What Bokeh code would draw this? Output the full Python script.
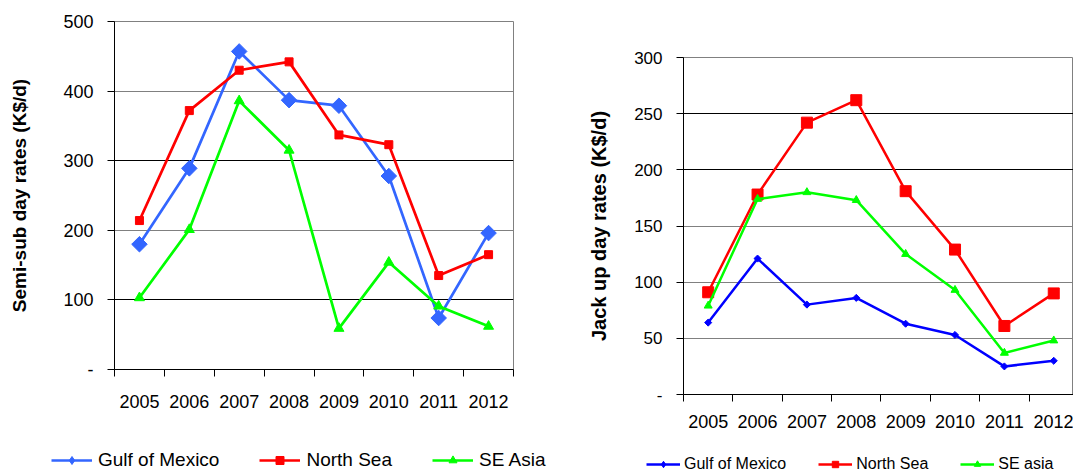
import math

from bokeh.embed import file_html
from bokeh.layouts import column, row
from bokeh.models import FixedTicker, Grid, Legend, LegendItem, Range1d
from bokeh.plotting import figure
from bokeh.resources import INLINE

# ---- data -------------------------------------------------------------
years = ["2005", "2006", "2007", "2008", "2009", "2010", "2011", "2012"]

# Semi-submersible day rates, K$/d
semi_gom = [180, 289, 457, 387, 379, 278, 74, 196]
semi_north_sea = [214, 372, 430, 442, 337, 323, 135, 165]
semi_se_asia = [103, 201, 386, 315, 59, 154, 91, 62]

# Jack-up day rates, K$/d
jack_gom = [64, 121, 80, 86, 63, 53, 25, 30]
jack_north_sea = [91, 178, 242, 262, 181, 129, 61, 90]
jack_se_asia = [79, 174, 180, 173, 125, 93, 37, 48]

series_names_semi = ["Gulf of Mexico", "North Sea", "SE Asia"]
series_names_jack = ["Gulf of Mexico", "North Sea", "SE asia"]

FONT = "Liberation Sans"
RED = "#FF0000"
GREEN = "#00FF00"
BLUE_L = "#3366FF"
BLUE_R = "#0000FF"

xs = [i + 0.5 for i in range(len(years))]          # category centres
edges = list(range(len(years) + 1))                 # category boundaries


def base_figure(width, height, x_end, y_end, y_step, borders):
    left, right, top, bottom = borders
    p = figure(width=width, height=height, output_backend="svg",
               toolbar_location=None,
               x_range=Range1d(0, x_end), y_range=Range1d(0, y_end),
               min_border_left=left, min_border_right=right,
               min_border_top=top, min_border_bottom=bottom)
    p.frame_align = False
    p.background_fill_color = "white"
    p.border_fill_color = "white"
    p.outline_line_color = "#808080"
    p.outline_line_width = 1

    # x axis: boundary ticks (minor) and centred year labels (major)
    xa = p.xaxis[0]
    xa.ticker = FixedTicker(ticks=xs, minor_ticks=edges)
    xa.major_label_overrides = {x: y for x, y in zip(xs, years)}
    xa.major_tick_line_color = None
    xa.major_tick_in = 0
    xa.major_tick_out = 0
    xa.minor_tick_in = 0
    xa.minor_tick_out = 7
    xa.minor_tick_line_color = "black"
    xa.axis_line_color = "black"
    xa.major_label_text_font = FONT
    xa.major_label_text_color = "black"

    # y axis
    ya = p.yaxis[0]
    ya.ticker = FixedTicker(ticks=list(range(0, y_end + 1, y_step)))
    ya.major_label_overrides = {0: "-"}
    ya.major_tick_in = 0
    ya.major_tick_out = 7
    ya.major_tick_line_color = "black"
    ya.axis_line_color = "black"
    ya.major_label_text_font = FONT
    ya.major_label_text_color = "black"
    ya.axis_label_text_font = FONT
    ya.axis_label_text_font_style = "bold"
    ya.axis_label_text_color = "black"

    p.xgrid.visible = False
    p.ygrid.visible = False
    return p


def add_grids(p, dark, light):
    p.add_layout(Grid(dimension=1, ticker=FixedTicker(ticks=dark),
                      grid_line_color="black", grid_line_width=1))
    p.add_layout(Grid(dimension=1, ticker=FixedTicker(ticks=light),
                      grid_line_color="#808080", grid_line_width=1))


def legend_strip(width, height, names, series, styles, loc, font_size,
                 glyph_width, glyph_height, spacing, standoff):
    """A bare strip under a chart that only carries its legend.

    The series are re-plotted here with a 0..1 y range, so the lines fall
    outside the strip's frame and only their legend swatches show."""
    p = figure(width=width, height=height, output_backend="svg",
               toolbar_location=None, x_axis_location=None,
               y_axis_location=None, x_range=Range1d(0, 1),
               y_range=Range1d(0, 1), min_border=0)
    p.frame_align = False
    p.outline_line_color = None
    p.background_fill_color = "white"
    p.border_fill_color = "white"
    p.grid.visible = False
    items = []
    for name, ys, (color, marker, size, angle) in zip(names, series, styles):
        # swatches ignore the angle, so the rotated squares become diamonds
        swatch = "diamond" if angle else marker
        ln = p.line(xs, ys, line_color=color, line_width=2.5)
        mk = p.scatter(xs, ys, marker=swatch, size=size,
                       fill_color=color, line_color=color)
        items.append(LegendItem(label=name, renderers=[ln, mk]))
    leg = Legend(items=items, orientation="horizontal", location=loc,
                 border_line_color=None, background_fill_alpha=0,
                 padding=0, margin=0, spacing=spacing,
                 glyph_width=glyph_width, glyph_height=glyph_height,
                 label_height=glyph_height, label_standoff=standoff,
                 label_text_font=FONT, label_text_font_size=font_size,
                 label_text_color="black")
    p.add_layout(leg, "center")
    return p


# ---- semi-submersible chart ---------------------------------------------
left = base_figure(560, 440, len(years), 500, 100, (114, 47, 21, 71))
left.xaxis.major_label_text_font_size = "18px"
left.xaxis.major_label_standoff = 18
left.yaxis.major_label_text_font_size = "18px"
left.yaxis.major_label_standoff = 14
left.yaxis.axis_label = "Semi-sub day rates (K$/d)"
left.yaxis.axis_label_text_font_size = "19px"
left.yaxis.axis_label_standoff = 30
add_grids(left, [100, 300], [200, 400])

semi_series = [semi_gom, semi_north_sea, semi_se_asia]
semi_styles = [(BLUE_L, "square", 11, math.pi / 4), (RED, "square", 8, 0),
               (GREEN, "triangle", 10, 0)]
for ys, (color, marker, size, angle) in zip(semi_series, semi_styles):
    left.line(xs, ys, line_color=color, line_width=2.7)
    left.scatter(xs, ys, marker=marker, size=size, angle=angle,
                 fill_color=color, line_color=color)

left_leg = legend_strip(560, 33, series_names_semi, semi_series, semi_styles,
                        (51, 2), "19px", 41, 20, 40, 6)

# ---- jack-up chart ------------------------------------------------------
right = base_figure(513, 440, 7.9, 300, 50, (123, 0, 57, 46))
right.xaxis.major_label_text_font_size = "18px"
right.xaxis.major_label_standoff = 13
right.yaxis.major_label_text_font_size = "17px"
right.yaxis.major_label_standoff = 14
right.yaxis.axis_label = "Jack up day rates (K$/d)"
right.yaxis.axis_label_text_font_size = "20px"
right.yaxis.axis_label_standoff = 21
add_grids(right, [200, 250], [50, 100, 150])

jack_series = [jack_gom, jack_north_sea, jack_se_asia]
jack_styles = [(BLUE_R, "square", 5, math.pi / 4), (RED, "square", 11, 0),
               (GREEN, "triangle", 8, 0)]
for ys, (color, marker, size, angle) in zip(jack_series, jack_styles):
    right.line(xs, ys, line_color=color, line_width=2.5)
    right.scatter(xs, ys, marker=marker, size=size, angle=angle,
                  fill_color=color, line_color=color)

right_leg = legend_strip(513, 33, series_names_jack, jack_series, jack_styles,
                         (86, 0), "16px", 34, 16, 32, 4)

layout = row(column(left, left_leg), column(right, right_leg))
open("out.html", "w").write(file_html(layout, INLINE))
